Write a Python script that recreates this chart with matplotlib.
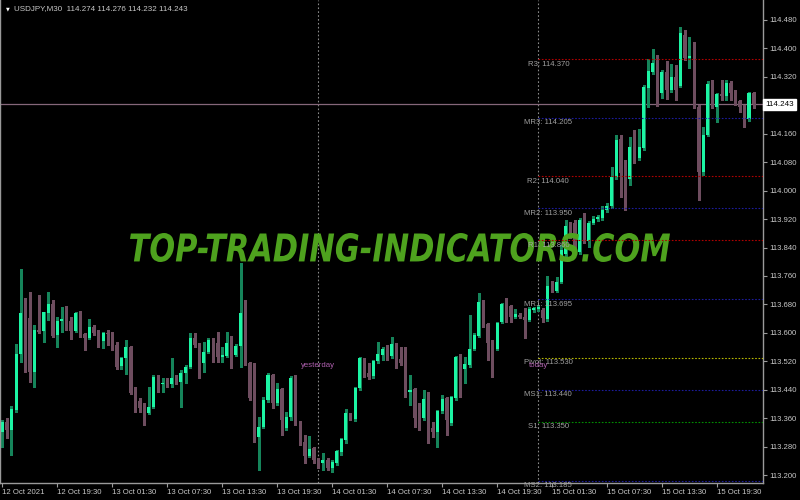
import matplotlib
matplotlib.use("Agg")
import matplotlib.pyplot as plt
import numpy as np
import pandas as pd
from matplotlib.textpath import TextPath
from matplotlib.patches import PathPatch
from matplotlib.font_manager import FontProperties
from matplotlib.transforms import Affine2D, blended_transform_factory


# =========================================================
# Data (USDJPY M30)
# =========================================================
SYMBOL = "USDJPY,M30"
START_TIME = "2021-10-12 13:30"

open_ = [
    113.322, 113.350, 113.326, 113.383, 113.540, 113.653, 113.642, 113.490, 113.608, 113.605,
    113.656, 113.681, 113.594, 113.633, 113.642, 113.633, 113.605, 113.656, 113.597, 113.585,
    113.616, 113.599, 113.577, 113.599, 113.599, 113.566, 113.506, 113.529, 113.560, 113.431,
    113.408, 113.388, 113.374, 113.391, 113.476, 113.456, 113.461, 113.456, 113.473, 113.461,
    113.487, 113.504, 113.585, 113.566, 113.515, 113.546, 113.580, 113.571, 113.532, 113.535,
    113.571, 113.537, 113.563, 113.656, 113.515, 113.416, 113.307, 113.335, 113.411, 113.481,
    113.402, 113.442, 113.332, 113.363, 113.476, 113.346, 113.293, 113.253, 113.276, 113.242,
    113.234, 113.242, 113.220, 113.234, 113.265, 113.298, 113.369, 113.357, 113.445, 113.526,
    113.487, 113.478, 113.521, 113.537, 113.554, 113.535, 113.568, 113.526, 113.518, 113.433,
    113.442, 113.363, 113.360, 113.414, 113.332, 113.321, 113.380, 113.416, 113.346, 113.416,
    113.509, 113.498, 113.509, 113.554, 113.591, 113.687, 113.625, 113.574, 113.554, 113.630,
    113.681, 113.675, 113.644, 113.650, 113.644, 113.636, 113.664, 113.667, 113.664, 113.639,
    113.731, 113.717, 113.743, 113.821, 113.895, 113.909, 113.827, 113.914, 113.858, 113.909,
    113.920, 113.923, 113.945, 113.957, 114.038, 114.145, 114.052, 114.032, 114.122, 114.092,
    114.120, 114.288, 114.333, 114.359, 114.274, 114.333, 114.283, 114.319, 114.294, 114.438,
    114.373, 114.376, 114.235, 114.052, 114.156, 114.300, 114.235, 114.272, 114.266, 114.303,
    114.277, 114.252, 114.238, 114.201, 114.274,
]
high = [
    113.355, 113.360, 113.394, 113.568, 113.779, 113.698, 113.715, 113.622, 113.706, 113.658,
    113.715, 113.692, 113.644, 113.672, 113.675, 113.644, 113.658, 113.661, 113.599, 113.639,
    113.622, 113.608, 113.602, 113.608, 113.602, 113.574, 113.532, 113.580, 113.563, 113.447,
    113.416, 113.402, 113.447, 113.481, 113.481, 113.473, 113.473, 113.529, 113.481, 113.495,
    113.509, 113.599, 113.599, 113.571, 113.574, 113.585, 113.585, 113.602, 113.560, 113.602,
    113.591, 113.568, 113.796, 113.692, 113.518, 113.515, 113.363, 113.419, 113.487, 113.484,
    113.459, 113.445, 113.377, 113.478, 113.481, 113.352, 113.312, 113.310, 113.279, 113.248,
    113.262, 113.248, 113.242, 113.270, 113.304, 113.386, 113.374, 113.447, 113.532, 113.529,
    113.515, 113.523, 113.574, 113.560, 113.566, 113.588, 113.571, 113.560, 113.560, 113.481,
    113.445, 113.402, 113.439, 113.433, 113.349, 113.383, 113.425, 113.419, 113.422, 113.535,
    113.540, 113.532, 113.650, 113.599, 113.712, 113.692, 113.627, 113.580, 113.630, 113.684,
    113.698, 113.678, 113.667, 113.656, 113.670, 113.672, 113.672, 113.678, 113.670, 113.760,
    113.746, 113.757, 113.847, 113.917, 113.912, 113.917, 113.923, 113.937, 113.914, 113.928,
    113.931, 113.957, 113.965, 114.066, 114.156, 114.156, 114.086, 114.151, 114.170, 114.173,
    114.297, 114.370, 114.398, 114.381, 114.339, 114.364, 114.356, 114.353, 114.460, 114.452,
    114.432, 114.418, 114.241, 114.179, 114.308, 114.311, 114.274, 114.311, 114.311, 114.308,
    114.283, 114.255, 114.241, 114.277, 114.276,
]
low = [
    113.280, 113.304, 113.256, 113.377, 113.518, 113.490, 113.461, 113.447, 113.599, 113.574,
    113.636, 113.588, 113.560, 113.602, 113.608, 113.582, 113.602, 113.588, 113.551, 113.582,
    113.594, 113.560, 113.557, 113.566, 113.551, 113.498, 113.498, 113.484, 113.428, 113.377,
    113.377, 113.341, 113.371, 113.388, 113.433, 113.433, 113.447, 113.447, 113.456, 113.391,
    113.459, 113.501, 113.560, 113.473, 113.490, 113.543, 113.518, 113.518, 113.518, 113.532,
    113.501, 113.535, 113.504, 113.509, 113.411, 113.293, 113.214, 113.332, 113.405, 113.388,
    113.397, 113.312, 113.326, 113.355, 113.341, 113.284, 113.234, 113.251, 113.234, 113.220,
    113.214, 113.214, 113.208, 113.228, 113.256, 113.290, 113.355, 113.352, 113.439, 113.476,
    113.470, 113.473, 113.515, 113.523, 113.523, 113.529, 113.501, 113.509, 113.419, 113.397,
    113.335, 113.326, 113.355, 113.290, 113.307, 113.279, 113.374, 113.312, 113.341, 113.411,
    113.419, 113.459, 113.504, 113.551, 113.588, 113.616, 113.523, 113.476, 113.551, 113.627,
    113.630, 113.630, 113.642, 113.642, 113.585, 113.633, 113.658, 113.661, 113.630, 113.633,
    113.715, 113.715, 113.740, 113.816, 113.867, 113.821, 113.821, 113.852, 113.841, 113.906,
    113.914, 113.917, 113.940, 113.951, 114.032, 113.982, 113.945, 114.016, 114.077, 114.086,
    114.114, 114.235, 114.328, 114.238, 114.260, 114.258, 114.277, 114.255, 114.291, 114.367,
    114.345, 114.232, 113.973, 114.044, 114.153, 114.232, 114.193, 114.255, 114.255, 114.255,
    114.241, 114.221, 114.179, 114.196, 114.232,
]
close = [
    113.350, 113.326, 113.386, 113.540, 113.656, 113.642, 113.490, 113.608, 113.602, 113.658,
    113.681, 113.591, 113.633, 113.639, 113.630, 113.605, 113.656, 113.594, 113.585, 113.616,
    113.599, 113.574, 113.599, 113.597, 113.566, 113.504, 113.529, 113.560, 113.431, 113.405,
    113.388, 113.374, 113.391, 113.476, 113.453, 113.459, 113.456, 113.473, 113.459, 113.487,
    113.504, 113.585, 113.566, 113.515, 113.546, 113.580, 113.571, 113.532, 113.537, 113.571,
    113.537, 113.563, 113.656, 113.515, 113.416, 113.307, 113.335, 113.411, 113.481, 113.402,
    113.442, 113.355, 113.363, 113.473, 113.343, 113.290, 113.253, 113.273, 113.242, 113.234,
    113.242, 113.220, 113.236, 113.267, 113.301, 113.374, 113.360, 113.445, 113.529, 113.487,
    113.476, 113.521, 113.540, 113.554, 113.535, 113.568, 113.523, 113.515, 113.433, 113.439,
    113.360, 113.360, 113.414, 113.326, 113.321, 113.380, 113.414, 113.355, 113.419, 113.532,
    113.501, 113.512, 113.554, 113.594, 113.687, 113.622, 113.571, 113.554, 113.627, 113.681,
    113.675, 113.644, 113.653, 113.644, 113.636, 113.667, 113.670, 113.672, 113.642, 113.731,
    113.723, 113.743, 113.833, 113.900, 113.892, 113.827, 113.917, 113.861, 113.909, 113.920,
    113.926, 113.945, 113.957, 114.038, 114.142, 114.049, 114.032, 114.122, 114.089, 114.122,
    114.291, 114.336, 114.359, 114.274, 114.333, 114.283, 114.319, 114.283, 114.443, 114.373,
    114.378, 114.235, 114.052, 114.156, 114.300, 114.235, 114.272, 114.266, 114.303, 114.274,
    114.249, 114.235, 114.201, 114.274, 114.243,
]

# ---- Daily pivot levels (labels on the chart) ----
pivot_names  = ["R3", "MR3", "R2", "MR2", "R1", "MR1", "Pivot", "MS1", "S1", "MS2"]
pivot_values = [114.370, 114.205, 114.040, 113.950, 113.860, 113.695, 113.530, 113.440, 113.350, 113.185]

price_ticks = [113.200, 113.280, 113.360, 113.440, 113.520, 113.600, 113.680, 113.760,
               113.840, 113.920, 114.000, 114.080, 114.160, 114.240, 114.320, 114.400, 114.480]


# =========================================================
# Style
# =========================================================
BG        = "black"
BULL      = "#1cf5a4"
BULL_WICK = "#15845a"
BEAR      = "#6e4d5f"
GRID_TXT  = "#c8c8c8"
AXIS_COL  = "#9a9a9a"
LEVEL_COLORS = {"R": "#b00000", "M": "#1c1c9c", "P": "#b8b800", "S": "#009000"}
FONT = "Liberation Sans"


# =========================================================
# Main plot
# =========================================================
o = np.array(open_)
h = np.array(high)
l = np.array(low)
c = np.array(close)
n = len(c)
idx = np.arange(n)
times = pd.date_range(START_TIME, periods=n, freq="30min")
up = c >= o

fig = plt.figure(figsize=(8, 5), dpi=100, facecolor=BG)
ax = fig.add_axes([0.0, 0.034, 0.954, 0.966], facecolor=BG)

# -----------------------------------------------------
# Candles
# -----------------------------------------------------
ax.vlines(idx[up], l[up], h[up], color=BULL_WICK, lw=1, zorder=2, antialiased=False)
ax.vlines(idx[~up], l[~up], h[~up], color=BEAR, lw=1, zorder=2, antialiased=False)
body_bottom = np.minimum(o, c)
body_height = np.maximum(np.abs(c - o), 0.0025)
ax.bar(idx[up], body_height[up], bottom=body_bottom[up], width=0.66,
       color=BULL, lw=0, zorder=2.5)
ax.bar(idx[~up], body_height[~up], bottom=body_bottom[~up], width=0.66,
       color=BEAR, lw=0, zorder=2.5)

# -----------------------------------------------------
# Day separators (yesterday / today)
# -----------------------------------------------------
day_starts = [i for i in idx if times[i].hour == 0 and times[i].minute == 0]
yesterday_i, today_i = day_starts[-2], day_starts[-1]
for i in (yesterday_i, today_i):
    ax.axvline(i, color="#8a8a8a", lw=0.8, ls=(0, (1.5, 2)), zorder=1)
ax.text(yesterday_i, 113.509, "yesterday", color="#b060b0", fontsize=5.6,
        family=FONT, ha="center", va="center", zorder=5)
ax.text(today_i, 113.509, "today", color="#b060b0", fontsize=5.6,
        family=FONT, ha="center", va="center", zorder=5)

# -----------------------------------------------------
# Current price line
# -----------------------------------------------------
ax.axhline(c[-1], color="#85677a", lw=0.9, zorder=1.5)

# -----------------------------------------------------
# Watermark
# -----------------------------------------------------
wm_prop = FontProperties(family="DejaVu Sans", weight="bold", style="italic")
wm_path = TextPath((0, 0), "TOP-TRADING-INDICATORS.COM", prop=wm_prop, size=1)
ext = wm_path.get_extents()
wm_tr = (Affine2D().translate(-ext.x0, -ext.y0)
         .scale(540 / ext.width / 800, 29 / ext.height / 500)
         .translate(130 / 800, (500 - 262) / 500) + fig.transFigure)
ax.add_patch(PathPatch(wm_path, transform=wm_tr, facecolor="#4ea21e",
                       edgecolor="none", zorder=3, clip_on=False))

# -----------------------------------------------------
# Pivot levels
# -----------------------------------------------------
for name, val in zip(pivot_names, pivot_values):
    col = LEVEL_COLORS[name[0]]
    ax.hlines(val, today_i, n + 5, color=col, lw=0.8, ls=(0, (1.5, 1.5)), zorder=4)
    ax.text(today_i + 2.2, val - 0.014, f"{name}: {val:.3f}", color="#a0a0a0",
            fontsize=5.6, family=FONT, ha="center", va="center", zorder=4.5,
            clip_on=False)

# -----------------------------------------------------
# Axes
# -----------------------------------------------------
ax.set_xlim(-0.5, 166.1)
ax.set_ylim(113.178, 114.536)

ax.spines["top"].set_visible(False)
for side in ("right", "bottom", "left"):
    ax.spines[side].set_color(AXIS_COL)
    ax.spines[side].set_linewidth(1)

# the price tag hides the tick label next to the current price
ax.yaxis.tick_right()
ax.set_yticks(price_ticks)
ax.set_yticklabels(["" if abs(p - c[-1]) < 0.02 else f"{p:.3f}" for p in price_ticks])
ax.tick_params(axis="y", colors=AXIS_COL, labelcolor=GRID_TXT, labelsize=5.6,
               length=3, width=0.8, pad=1.5, direction="out")

tick_bars = [i for i in idx
             if times[i].minute == 30 and times[i].hour in (1, 7, 13, 19)]
tick_labels = [times[i].strftime("%d %b %H:%M") for i in tick_bars]
tick_labels[0] = times[tick_bars[0]].strftime("%d %b %Y")
ax.set_xticks(tick_bars)
ax.set_xticklabels(tick_labels, ha="left")
ax.tick_params(axis="x", colors=AXIS_COL, labelcolor=GRID_TXT, labelsize=5.6,
               length=3, width=0.8, pad=1.5, direction="out")
for lab in ax.get_xticklabels() + ax.get_yticklabels():
    lab.set_family(FONT)

# current price tag
tag_tr = blended_transform_factory(ax.transAxes, ax.transData)
ax.text(1.003, c[-1], f"{c[-1]:.3f}", transform=tag_tr, fontsize=5.8, family=FONT,
        color="black", ha="left", va="center", clip_on=False, zorder=6,
        bbox=dict(boxstyle="square,pad=0.25", facecolor="white", edgecolor="white"))

# -----------------------------------------------------
# Title
# -----------------------------------------------------
fig.text(0.007, 0.983, "\u25BC", color="white", fontsize=3.5, ha="left", va="center")
fig.text(0.017, 0.983,
         f"{SYMBOL}  {o[-1]:.3f} {h[-1]:.3f} {l[-1]:.3f} {c[-1]:.3f}",
         color=GRID_TXT, fontsize=5.8, family=FONT, ha="left", va="center")

# -----------------------------------------------------
# Save figure
# -----------------------------------------------------
fig.savefig("out.png", dpi=100, facecolor=BG)
